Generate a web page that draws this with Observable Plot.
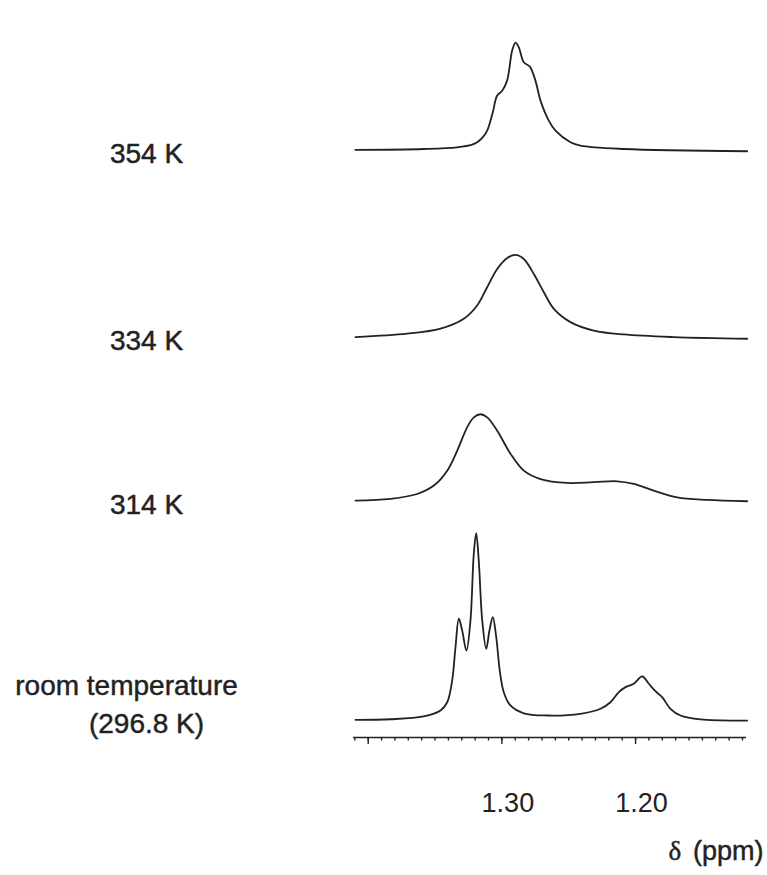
<!DOCTYPE html>
<html><head><meta charset="utf-8">
<script src="https://cdn.jsdelivr.net/npm/d3@7"></script>
<script src="https://cdn.jsdelivr.net/npm/@observablehq/plot@0.6"></script>
<style>body{margin:0;background:#fff;}</style>
</head><body><div id="chart"></div>
<script>
// Spectrum labels (top to bottom) and vertical stacking offsets (intensity units)
const temps = ["354 K", "334 K", "314 K", "room temperature"];
const offsets = [305.1, 204.8, 117.3, 0];

// 354 K
const delta354 = [1.4095,1.3586,1.3335,1.3222,1.3185,1.3147,1.3110,1.3085,1.3065,1.3036,1.2998,1.2961,1.2923,1.2898,1.2873,1.2836,1.2791,1.2749,1.2711,1.2649,1.2599,1.2487,1.2412,1.2088,1.1165];
const int354   = [0.1,0.6,1.5,2.9,4.2,6.5,10.4,15.8,21.1,29.1,31.8,37.2,53.3,57.6,55.0,47.0,44.7,37.2,26.5,15.8,10.4,4.2,2.4,0.6,-0.6];

// 334 K
const delta334 = [1.4095,1.3708,1.3459,1.3285,1.3185,1.3110,1.3035,1.2960,1.2898,1.2836,1.2761,1.2686,1.2611,1.2487,1.2313,1.2088,1.1714,1.1165];
const int334   = [0.2,2.0,4.7,10.0,17.1,26.9,36.7,42.6,44.2,42.0,34.0,24.2,15.3,8.2,3.7,1.6,0.2,-0.7];

// 314 K
const delta314 = [1.4095,1.3833,1.3634,1.3509,1.3409,1.3334,1.3260,1.3210,1.3160,1.3110,1.3035,1.2936,1.2836,1.2711,1.2512,1.2313,1.2138,1.2013,1.1864,1.1689,1.1465,1.1165];
const int314   = [0.2,1.1,3.7,8.2,16.2,26.9,39.4,44.7,46.4,44.7,37.6,25.3,16.2,11.7,9.6,10.0,10.5,9.1,5.5,1.9,0.5,-0.2];

// room temperature (296.8 K)
const deltaRT = [1.4095,1.3833,1.3586,1.3459,1.3409,1.3372,1.3347,1.3322,1.3297,1.3265,1.3235,1.3210,1.3192,1.3173,1.3147,1.3117,1.3093,1.3068,1.3042,1.3016,1.2986,1.2936,1.2836,1.2661,1.2412,1.2262,1.2188,1.2125,1.2075,1.2013,1.1950,1.1901,1.1851,1.1801,1.1739,1.1664,1.1514,1.1165];
const intRT   = [0.1,0.4,1.9,5.1,9.5,21.1,39.0,54.2,47.9,37.2,53.3,89.1,100,85.4,53.3,38.1,47.9,55.0,44.3,26.5,14.9,7.8,3.6,2.4,3.3,6.0,9.5,14.9,17.6,19.4,23.3,19.4,15.4,12.2,6.0,2.4,0.3,-0.3];

// Axis ticks
const majorTicks = [1.40, 1.30, 1.20];
const labelTicks = [1.30, 1.20];
const tickLabels = ["1.30", "1.20"];
const minorTicks = d3.range(112, 142).map(d => d / 100);

const xDomain = [1.411, 1.117];
const yDomain = [-9.37, 385.2];

const spectra = [
  [delta354, int354],
  [delta334, int334],
  [delta314, int314],
  [deltaRT, intRT]
];
const rows = spectra.flatMap(([ds, is], k) =>
  ds.map((d, i) => ({T: temps[k], delta: d, y: is[i] + offsets[k]})));

const labelRows = temps.slice(0, 3).map((t, k) => ({t, y: offsets[k]}));

const font = "'Liberation Sans', Arial, Helvetica, sans-serif";
const ink = "#222";
const txt = {fill: ink, stroke: ink, strokeWidth: 0.45, fontSize: 28};

const chart = Plot.plot({
  width: 767, height: 875,
  marginLeft: 353, marginRight: 21, marginTop: 0, marginBottom: 138,
  style: {fontFamily: font, background: "#fff", color: ink, overflow: "visible"},
  x: {domain: xDomain, axis: null},
  y: {domain: yDomain, axis: null},
  marks: [
    Plot.ruleY([yDomain[0]], {stroke: ink, strokeWidth: 1.6}),
    Plot.axisX({ticks: minorTicks, tickSize: 3.5, tickFormat: () => "", strokeWidth: 1.4, label: null}),
    Plot.axisX({ticks: majorTicks, tickSize: 7, tickFormat: () => "", strokeWidth: 1.4, label: null}),
    Plot.axisX({
      ticks: labelTicks, tickSize: 0, tickPadding: 55, fontSize: 27, label: null, dx: 6,
      fill: ink, stroke: ink, strokeWidth: 0.4,
      tickFormat: d => tickLabels[labelTicks.findIndex(t => Math.abs(t - d) < 1e-9)]
    }),
    Plot.line(rows, {x: "delta", y: "y", z: "T", curve: "catmull-rom", stroke: ink, strokeWidth: 1.8}),
    Plot.text(labelRows, {...txt, frameAnchor: "left", y: "y", text: "t", dx: -207, dy: 4, textAnchor: "middle"}),
    Plot.text([temps[3]], {...txt, frameAnchor: "left", y: [offsets[3]], text: d => d, dx: -227, dy: -34, textAnchor: "middle"}),
    Plot.text(["(296.8 K)"], {...txt, frameAnchor: "left", y: [offsets[3]], text: d => d, dx: -207, dy: 4, textAnchor: "middle"}),
    Plot.text(["(ppm)"], {...txt, fontSize: 27, frameAnchor: "bottom-right", text: d => d, dx: 17, dy: 122, textAnchor: "end"}),
    Plot.text(["δ"], {...txt, fontSize: 27, frameAnchor: "bottom-right", text: d => d, dx: -78, dy: 122, textAnchor: "start", fontFamily: "'Liberation Serif', 'Times New Roman', serif"})
  ]
});
document.getElementById("chart").appendChild(chart);
</script>
</body></html>
